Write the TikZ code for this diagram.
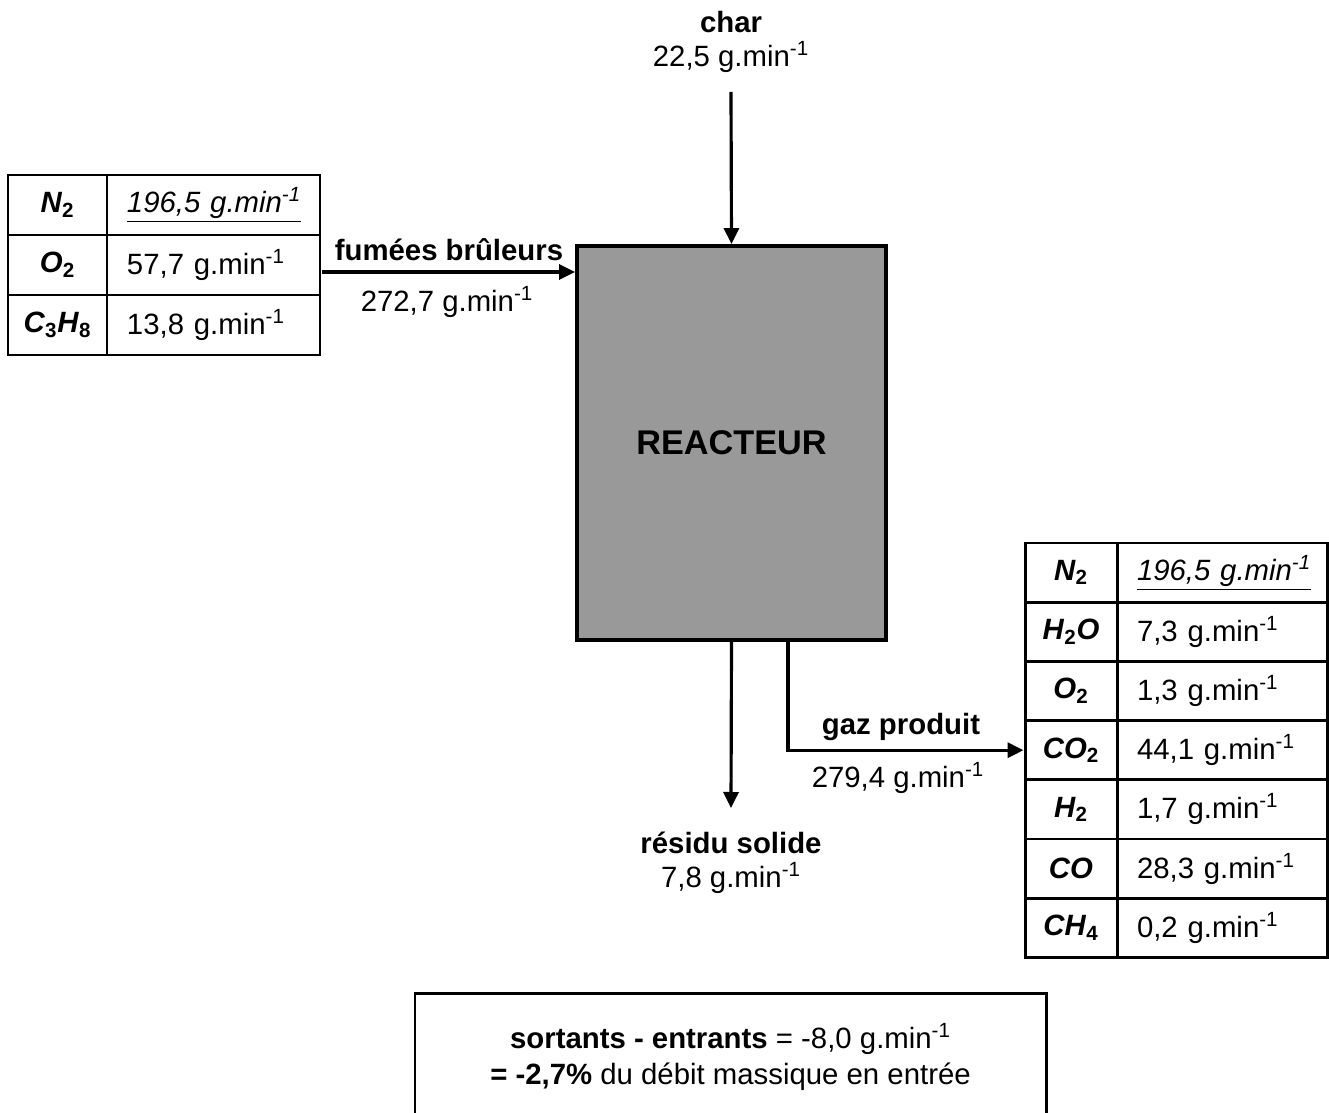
\documentclass[tikz,border=0pt]{standalone}
\usepackage{fontspec}
\setmainfont{Liberation Sans}
\usetikzlibrary{arrows.meta}

\newcommand{\taille}{\fontsize{16.7}{20}\selectfont}
\newcommand{\gmin}{g.min\textsuperscript{-1}}
\newcommand{\el}[1]{\textit{#1}}

\begin{document}
\begin{tikzpicture}[x=0.2mm, y=-0.2mm,
    fleche/.style={line width=1.8pt, -{Triangle[length=3.2mm,width=3mm]}},
    gras/.style={font=\taille\bfseries},
    normal/.style={font=\taille},
    cellule/.style={draw, line width=1.7pt, inner sep=0pt, minimum height=12mm},
    espece/.style={cellule, gras, minimum width=19.8mm},
    debit/.style={cellule, normal, inner xsep=4mm, align=left}]

    \useasboundingbox (0,0) rectangle (1329,1113);

    % Reacteur
    \node[draw, line width=2.2pt, fill=black!40, minimum width=61.8mm, minimum height=78.8mm,
          font=\fontsize{19.5}{23}\selectfont\bfseries] (reac) at (731.5,443) {REACTEUR};

    % Entree char
    \node[gras] (char) at (731,22) {char};
    \node[normal] (chardeb) at (731,57) {22,5 \gmin};
    \coordinate (charin) at (731,92);
    \draw[fleche] (charin) -- (reac.north);

    % Tableau fumees
    \foreach \esp/\val [count=\i] in {
        {\el{N}\textsubscript{2}}/{\underline{\textit{196,5 \gmin}}},
        {\el{O}\textsubscript{2}}/{57,7 \gmin},
        {\el{C}\textsubscript{3}\el{H}\textsubscript{8}}/{13,8 \gmin}} {
        \node[espece] (fum\i) at (57.5,145+60*\i) {\esp};
        \node[debit, text width=34.6mm] (fumval\i) at (213.5,145+60*\i) {\val};
    }

    % Entree fumees
    \coordinate (fumin) at (322,272);
    \draw[fleche] (fumin) -- (reac.west |- fumin);
    \node[gras] (fumlab) at (449,250) {fumées brûleurs};
    \node[normal] (fumdeb) at (447,302) {272,7 \gmin};

    % Sortie residu
    \coordinate (residout) at (731,808);
    \draw[fleche] (reac.south) -- (residout);
    \node[gras] (resid) at (731,843) {résidu solide};
    \node[normal] (residdeb) at (731,878) {7,8 \gmin};

    % Tableau gaz produit
    \foreach \esp/\val [count=\i] in {
        {\el{N}\textsubscript{2}}/{\underline{\textit{196,5 \gmin}}},
        {\el{H}\textsubscript{2}\el{O}}/{7,3 \gmin},
        {\el{O}\textsubscript{2}}/{1,3 \gmin},
        {\el{CO}\textsubscript{2}}/{44,1 \gmin},
        {\el{H}\textsubscript{2}}/{1,7 \gmin},
        {\el{CO}}/{28,3 \gmin},
        {\el{CH}\textsubscript{4}}/{0,2 \gmin}} {
        \node[espece, minimum width=18.4mm, minimum height=11.84mm] (gaz\i) at (1071,513.4+59.2*\i) {\esp};
        \node[debit, text width=34mm, minimum height=11.84mm] (gazval\i) at (1222,513.4+59.2*\i) {\val};
    }

    % Sortie gaz
    \coordinate (gazout) at (788,640);
    \draw[fleche] (gazout) |- (gaz4.west);
    \node[gras] (gazlab) at (901,727) {gaz produit};
    \node[normal] (gazdeb) at (898,778) {279,4 \gmin};

    % Bilan
    \node[draw, line width=1.7pt, minimum width=126.2mm, minimum height=25.4mm, normal, align=center] (bilan) at (730.5,1057)
        {\textbf{sortants - entrants} = -8,0 \gmin\\ \textbf{= -2,7\%} du débit massique en entrée};

\end{tikzpicture}
\end{document}
